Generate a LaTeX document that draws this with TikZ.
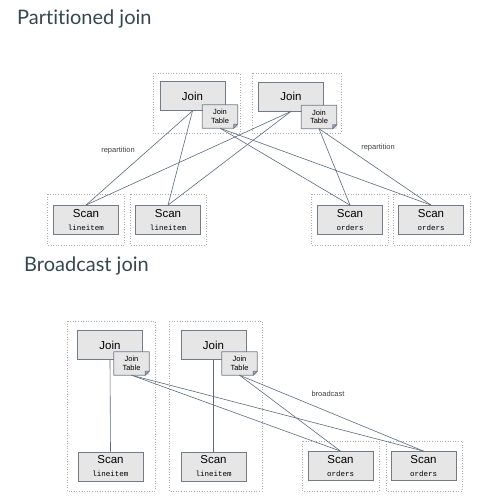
\documentclass[tikz,border=0pt]{standalone}
\usepackage{fontspec}
\setmainfont{Liberation Sans}
\setmonofont{Liberation Mono}
\newfontfamily\titlefont[Ligatures={NoCommon,NoRare}]{Lato}
\usepackage{xcolor}
\usetikzlibrary{positioning,calc}

\definecolor{boxfill}{HTML}{E6E6E6}
\definecolor{boxline}{HTML}{737B84}
\definecolor{wirecol}{HTML}{5C6B7A}
\definecolor{framecol}{HTML}{ABABAB}
\definecolor{headcol}{HTML}{37474F}

\tikzset{
  op/.style={draw=boxline, fill=boxfill, line width=0.8pt, minimum width=65pt,
    minimum height=29pt, inner sep=0pt, align=center,
    font=\fontsize{11.5}{13}\selectfont},
  jtable/.style={fill=boxfill, minimum width=35pt, minimum height=23pt,
    inner sep=0pt, align=center, font=\fontsize{7.5}{8.5}\selectfont},
  worker/.style={draw=framecol, dotted, line width=0.6pt},
  wire/.style={draw=wirecol, line width=0.6pt},
  note/.style={font=\fontsize{7.5}{8}\selectfont, text=black!75},
  heading/.style={anchor=base west, inner sep=0pt, text=headcol,
    font=\titlefont\fontsize{20}{22}\selectfont}
}

\begin{document}
\begin{tikzpicture}[x=1pt,y=-1pt]
    \useasboundingbox[fill=white] (0,0) rectangle (500,500);

      % Partitioned join
      \node[heading] (ptitle) at (17,25) {Partitioned join};

      \draw[worker] (153,73) rectangle (240,133);
      \draw[worker] (252,73) rectangle (341,133);
      \draw[worker] (47,194) rectangle (124,245);
      \draw[worker] (130,194) rectangle (206,245);
      \draw[worker] (311,194) rectangle (388,245);
      \draw[worker] (393,194) rectangle (470,245);

      \node[op] (pj1) at (192.5,96) {Join};
      \node[op] (pj2) at (291,96.5) {Join};
      \node[jtable] (pt1) at (220,116.5) {Join\\Table};
      \node[jtable] (pt2) at (319,117) {Join\\Table};

      \node[op] (ps1) at (86,220) {Scan\\{\ttfamily\fontsize{7.5}{8}\selectfont lineitem}};
      \node[op] (ps2) at (168,220) {Scan\\{\ttfamily\fontsize{7.5}{8}\selectfont lineitem}};
      \node[op] (ps3) at (350,220) {Scan\\{\ttfamily\fontsize{7.5}{8}\selectfont orders}};
      \node[op] (ps4) at (431,220) {Scan\\{\ttfamily\fontsize{7.5}{8}\selectfont orders}};

      \foreach \j in {pj1, pj2}
        \foreach \s in {ps1, ps2}
          \draw[wire] (\j.south) -- (\s.north);
      \foreach \t in {pt1, pt2}
        \foreach \s in {ps3, ps4}
          \draw[wire] (\t.south) -- (\s.north);

      \node[note] (prep1) at (118,151) {repartition};
      \node[note] (prep2) at (378,148) {repartition};

      % Broadcast join
      \node[heading] (btitle) at (24,271) {Broadcast join};

      \draw[worker] (67,321) rectangle (155,491);
      \draw[worker] (169,321) rectangle (262,491);
      \draw[worker] (302,441) rectangle (379,491);
      \draw[worker] (386,441) rectangle (462,491);

      \node[op] (bj1) at (110,345) {Join};
      \node[op] (bj2) at (213.5,345) {Join};
      \node[jtable] (bt1) at (131.5,363.5) {Join\\Table};
      \node[jtable] (bt2) at (239.5,363.5) {Join\\Table};

      \node[op] (bs1) at (110.5,466.5) {Scan\\{\ttfamily\fontsize{7.5}{8}\selectfont lineitem}};
      \node[op] (bs2) at (213.5,466.5) {Scan\\{\ttfamily\fontsize{7.5}{8}\selectfont lineitem}};
      \node[op] (bs3) at (340.5,466) {Scan\\{\ttfamily\fontsize{7.5}{8}\selectfont orders}};
      \node[op] (bs4) at (423.5,466) {Scan\\{\ttfamily\fontsize{7.5}{8}\selectfont orders}};

      \draw[wire] (bj1.south) -- (bs1.north);
      \draw[wire] (bj2.south) -- (bs2.north);
      \foreach \t in {bt1, bt2}
        \foreach \s in {bs3, bs4}
          \draw[wire] (\t.south) -- (\s.north);

      \node[note] (bcast) at (328,394) {broadcast};

      % Join table outlines with folded corner
      \foreach \t in {pt1, pt2, bt1, bt2} {
        \draw[boxline, line width=0.8pt, line join=round]
          (\t.north west) -- (\t.north east) -- ([yshift=4pt]\t.south east)
          -- ([xshift=-4pt]\t.south east) -- (\t.south west) -- cycle;
        \draw[boxline, line width=0.6pt, fill=boxline!60]
          ([yshift=4pt]\t.south east) -- ([xshift=-4pt,yshift=4pt]\t.south east)
          -- ([xshift=-4pt]\t.south east) -- cycle;
      }
  \end{tikzpicture}
\end{document}
